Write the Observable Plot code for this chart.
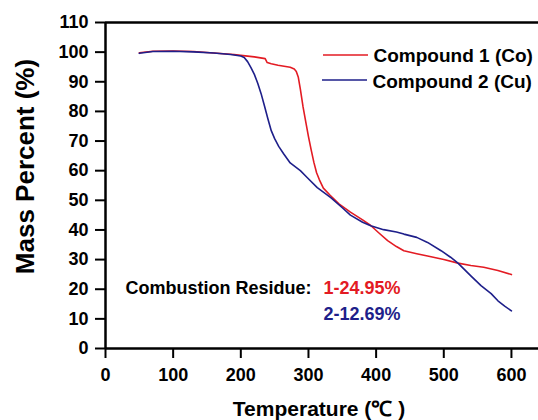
<!DOCTYPE html>
<html><head><meta charset="utf-8">
<script src="https://cdn.jsdelivr.net/npm/d3@7"></script>
<script src="https://cdn.jsdelivr.net/npm/@observablehq/plot@0.6"></script>
<style>body{margin:0;background:#fff}</style>
</head><body><div id="chart"></div>
<script>
const seriesNames = ["Compound 1 (Co)", "Compound 2 (Cu)"];
const residueTitle = "Combustion Residue:";
const residueLabels = ["1-24.95%", "2-12.69%"];
const xTicks = [0, 100, 200, 300, 400, 500, 600];
const yTicks = [0, 10, 20, 30, 40, 50, 60, 70, 80, 90, 100, 110];

const coTemp = [50, 70, 100, 130, 160, 190, 200, 220, 236, 239, 245, 255, 273, 279, 282, 285, 288, 292, 296, 300, 304, 308, 312, 316, 322, 332, 345, 362, 380, 392, 405, 417, 430, 441, 460, 476, 500, 521, 540, 559, 580, 600];
const coMass = [99.8, 100.3, 100.4, 100.2, 99.7, 99.2, 98.9, 98.4, 97.8, 96.5, 96.1, 95.6, 94.9, 94.3, 93.5, 91.5, 87.5, 81.5, 76.5, 71.5, 67, 62.8, 59.3, 57, 54.1, 51.7, 48.8, 46, 43.4, 41.5, 38.8, 36.4, 34.4, 33.0, 32.0, 31.2, 30.0, 28.8, 28.0, 27.4, 26.3, 24.95];

const cuTemp = [50, 70, 100, 130, 160, 185, 200, 205, 210, 215, 220, 225, 230, 235, 240, 245, 250, 256, 263, 273, 288, 298, 313, 333, 350, 362, 380, 392, 411, 430, 441, 460, 476, 496, 510, 521, 540, 555, 570, 580, 590, 600];
const cuMass = [99.6, 100.2, 100.3, 100.1, 99.7, 99.2, 98.7, 98.2, 96.8, 94.8, 92.5, 89.5, 86.0, 81.8, 77.5, 73.5, 70.8, 68.2, 65.8, 62.6, 60.0, 57.7, 54.3, 50.9, 47.5, 45.0, 42.6, 41.4, 40.1, 39.3, 38.6, 37.5, 35.8, 33.0, 30.8, 28.8, 24.5, 21.2, 18.5, 16.1, 14.3, 12.69];

const colors = ["#e31b23", "#1e1f8a"];
const rows = [
  ...coTemp.map((t, i) => ({t, m: coMass[i], s: seriesNames[0]})),
  ...cuTemp.map((t, i) => ({t, m: cuMass[i], s: seriesNames[1]}))
];

const ML = 105, MT = 22;
const plot = Plot.plot({
  width: 538, height: 420,
  marginLeft: ML, marginRight: 0, marginTop: MT, marginBottom: 72,
  style: {fontFamily: "'Liberation Sans', Arial, sans-serif", fontWeight: "bold", background: "#fff", color: "#000", overflow: "visible"},
  x: {domain: [0, 640]},
  y: {domain: [0, 110]},
  color: {domain: seriesNames, range: colors},
  marks: [
    Plot.axisX({ticks: xTicks, tickSize: 10, tickPadding: 10, strokeWidth: 2, fontSize: 18, fontWeight: "bold", label: null}),
    Plot.axisY({ticks: yTicks, tickSize: 10, tickPadding: 7, strokeWidth: 2, fontSize: 18, fontWeight: "bold", label: null}),
    Plot.ruleX([0], {strokeWidth: 2.5}),
    Plot.ruleY([0], {strokeWidth: 2.5}),
    Plot.ruleY([110], {strokeWidth: 2.5}),
    Plot.line(rows, {x: "t", y: "m", z: "s", stroke: "s", strokeWidth: 1.6}),
    Plot.text(["Mass Percent (%)"], {frameAnchor: "left", dx: -72, dy: -19, rotate: -90, textAnchor: "middle", lineAnchor: "bottom", fontSize: 26, fontWeight: "bold"}),
    Plot.text(["Temperature (℃ )"], {frameAnchor: "bottom", dx: -3, dy: 67, textAnchor: "middle", lineAnchor: "bottom", fontSize: 21, fontWeight: "bold"}),
    Plot.text([residueTitle], {frameAnchor: "top-left", dx: 125 - ML, dy: 293 - MT, lineAnchor: "bottom", textAnchor: "start", fontSize: 18, fontWeight: "bold"}),
    Plot.text([residueLabels[0]], {frameAnchor: "top-left", dx: 323 - ML, dy: 293 - MT, lineAnchor: "bottom", textAnchor: "start", fontSize: 18, fontWeight: "bold", fill: colors[0]}),
    Plot.text([residueLabels[1]], {frameAnchor: "top-left", dx: 323 - ML, dy: 319 - MT, lineAnchor: "bottom", textAnchor: "start", fontSize: 18, fontWeight: "bold", fill: colors[1]}),
    Plot.text([seriesNames[0]], {frameAnchor: "top-left", dx: 373 - ML, dy: 61 - MT, lineAnchor: "bottom", textAnchor: "start", fontSize: 19, fontWeight: "bold"}),
    Plot.text([seriesNames[1]], {frameAnchor: "top-left", dx: 372 - ML, dy: 87 - MT, lineAnchor: "bottom", textAnchor: "start", fontSize: 19, fontWeight: "bold"})
  ]
});
document.getElementById("chart").appendChild(plot);

// legend swatches
const svg = d3.select(plot);
const swatches = [{x1: 323, x2: 368, y: 55}, {x1: 322, x2: 367, y: 80}];
svg.append("g").selectAll("line").data(swatches).join("line")
  .attr("x1", d => d.x1).attr("x2", d => d.x2)
  .attr("y1", d => d.y).attr("y2", d => d.y)
  .attr("stroke", (d, i) => colors[i]).attr("stroke-width", 1.6);
</script>
</body></html>
